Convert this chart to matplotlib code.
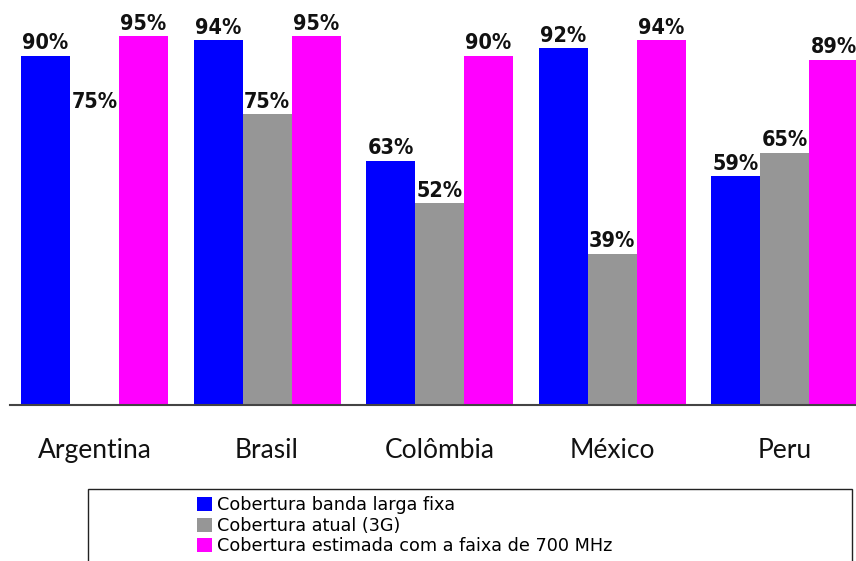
import matplotlib
matplotlib.use("Agg")
import matplotlib.pyplot as plt
from matplotlib.patches import Rectangle, Patch
import numpy as np

categories = ["Argentina", "Brasil", "Colômbia", "México", "Peru"]
banda_larga = [90, 94, 63, 92, 59]
atual_3g = [75, 75, 52, 39, 65]
faixa_700 = [95, 95, 90, 94, 89]
series_names = ["Cobertura banda larga fixa", "Cobertura atual (3G)",
                "Cobertura estimada com a faixa de 700 MHz"]
colors = ["#0000FF", "#969696", "#FF00FF"]

W, H = 856, 561
fig = plt.figure(figsize=(W / 100, H / 100), dpi=100)
ax = fig.add_axes([10 / W, 1 - 405 / H, (856 - 10) / W, (405 - 17) / H])

x = np.arange(len(categories))
bw = 49 / 172.5
series = [banda_larga, atual_3g, faixa_700]
for i, (vals, col) in enumerate(zip(series, colors)):
    pos = x + (i - 1) * bw
    bar_cols = [col] * len(vals)
    if i == 1:
        bar_cols[0] = "white"  # Argentina 3G bar not shown in the original
    ax.bar(pos, vals, width=bw, color=bar_cols, edgecolor="none")
    for p, v in zip(pos, vals):
        ax.text(p, v + 0.6, f"{v}%", ha="center", va="bottom",
                fontsize=15.5, fontweight="bold", family="DejaVu Sans",
                fontstretch="condensed", color="#111111")

ax.set_ylim(0, 100)
ax.set_xlim((10 - 94.5) / 172.5, (856 - 94.5) / 172.5)
for s in ["top", "right", "left"]:
    ax.spines[s].set_visible(False)
ax.spines["bottom"].set_color("#444444")
ax.spines["bottom"].set_linewidth(1.5)
ax.set_yticks([])
ax.set_xticks(x)
ax.set_xticklabels(categories, fontsize=19, family="Lato", color="#111111")
ax.tick_params(axis="x", length=0, pad=24)

# legend frame (extends past the bottom edge like the original)
fig.patches.append(Rectangle((88 / W, -0.05), (852 - 88) / W, 1 - 489 / H + 0.05,
                             transform=fig.transFigure, facecolor="white",
                             edgecolor="#222222", linewidth=1.0))
handles = [Patch(facecolor=c, edgecolor="none") for c in colors]
fig.legend(handles, series_names, loc="upper left",
           bbox_to_anchor=(197 / W, 1 - 496 / H), frameon=False,
           prop={"family": "DejaVu Sans", "size": 12.7},
           handlelength=0.85, handleheight=0.85, handletextpad=0.3,
           labelspacing=0.15, borderpad=0, borderaxespad=0)

fig.savefig("out.png", dpi=100)
